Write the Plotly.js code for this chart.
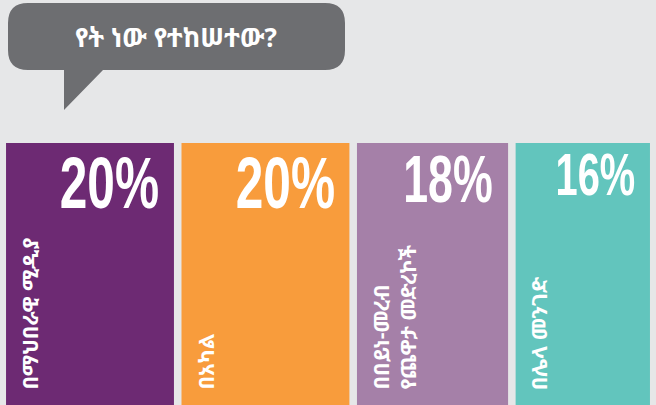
<!DOCTYPE html>
<html>
<head>
<meta charset="utf-8">
<script src="https://cdn.plot.ly/plotly-3.0.1.min.js"></script>
<style>
  html, body { margin: 0; padding: 0; background: #e6e7e8; }
  #chart { width: 656px; height: 405px; }
  #chart g.annotation[data-index="0"] text,
  #chart g.annotation[data-index="2"] text,
  #chart g.annotation[data-index="4"] text,
  #chart g.annotation[data-index="6"] text {
    transform-box: fill-box;
    transform-origin: 100% 0%;
    transform: scaleX(0.68);
  }
</style>
</head>
<body>
<div id="chart"></div>
<script>
// ---- data ----
const question = 'የት ነው የተከሠተው?';
const categories = ['በማህበራዊ ሚዲያ', 'በአካል', 'በበይነ-መረብ<br>የጨዋታ መድረኮች', 'በሌላ መንገድ'];
const values = [20, 20, 18, 16];
const valueLabels = ['20%', '20%', '18%', '16%'];
const colors = ['#6d2a73', '#f89c3c', '#a580a8', '#62c5bd'];

// ---- layout helpers ----
const W = 656, H = 405;
const leftPad = 0.72, gap = 0.9, rightPad = 0.72;
const total = values.reduce((a, b) => a + b, 0);
const xMax = leftPad + total + gap * (values.length - 1) + rightPad;

const lefts = [];
let cur = leftPad;
values.forEach(v => { lefts.push(cur); cur += v + gap; });
const centers = values.map((v, i) => lefts[i] + v / 2);

const barTopPx = 143;
const yMax = H / (H - barTopPx);

const px = x => x / W;
const py = y => 1 - y / H;

const ethFont = 'Noto Sans Ethiopic, Abyssinica SIL, DejaVu Sans, Noto Sans, sans-serif';

const annotations = [];
values.forEach((v, i) => {
  annotations.push({
    xref: 'x', yref: 'paper',
    x: lefts[i] + v - 1.5, y: py(barTopPx),
    xanchor: 'right', yanchor: 'top',
    yshift: 3,
    text: valueLabels[i], showarrow: false,
    font: { family: 'Liberation Sans, Arial, sans-serif', size: v * 3.6 + 1, color: '#ffffff', weight: 700 }
  });
  annotations.push({
    xref: 'x', yref: 'paper',
    x: lefts[i] + 0.9, y: py(392),
    xanchor: 'left', yanchor: 'bottom',
    textangle: -90, align: 'left',
    text: categories[i], showarrow: false,
    font: { family: ethFont, size: 21, color: '#ffffff', weight: 700 }
  });
});
annotations.push({
  xref: 'paper', yref: 'paper', x: px(176), y: py(37),
  xanchor: 'center', yanchor: 'middle',
  text: question, showarrow: false,
  font: { family: ethFont, size: 26, color: '#ffffff', weight: 700 }
});

// speech bubble (decoration)
const bl = 8, br = 345, bt = 3, bb = 70, r = 20;
const rx = r / W, ry = r / H;
const bubblePath = [
  `M ${px(bl) + rx} ${py(bt)}`,
  `L ${px(br) - rx} ${py(bt)}`,
  `Q ${px(br)} ${py(bt)} ${px(br)} ${py(bt) - ry}`,
  `L ${px(br)} ${py(bb) + ry}`,
  `Q ${px(br)} ${py(bb)} ${px(br) - rx} ${py(bb)}`,
  `L ${px(103)} ${py(bb)}`,
  `L ${px(64)} ${py(110)}`,
  `L ${px(64)} ${py(bb)}`,
  `L ${px(bl) + rx} ${py(bb)}`,
  `Q ${px(bl)} ${py(bb)} ${px(bl)} ${py(bb) + ry}`,
  `L ${px(bl)} ${py(bt) - ry}`,
  `Q ${px(bl)} ${py(bt)} ${px(bl) + rx} ${py(bt)}`,
  'Z'
].join(' ');

const trace = {
  type: 'bar',
  x: centers,
  y: values.map(() => 1),
  width: values,
  marker: { color: colors, line: { width: 0 } },
  hoverinfo: 'skip'
};

const layout = {
  width: W, height: H,
  margin: { l: 0, r: 0, t: 0, b: 0, pad: 0 },
  paper_bgcolor: '#e6e7e8',
  plot_bgcolor: '#e6e7e8',
  showlegend: false,
  xaxis: { range: [0, xMax], visible: false, fixedrange: true },
  yaxis: { range: [0, yMax], visible: false, fixedrange: true },
  shapes: [{
    type: 'path', xref: 'paper', yref: 'paper',
    path: bubblePath, fillcolor: '#6d6e71', line: { width: 0 }
  }],
  annotations: annotations,
  hovermode: false
};

Plotly.newPlot('chart', [trace], layout, { displayModeBar: false, staticPlot: true });
</script>
</body>
</html>
